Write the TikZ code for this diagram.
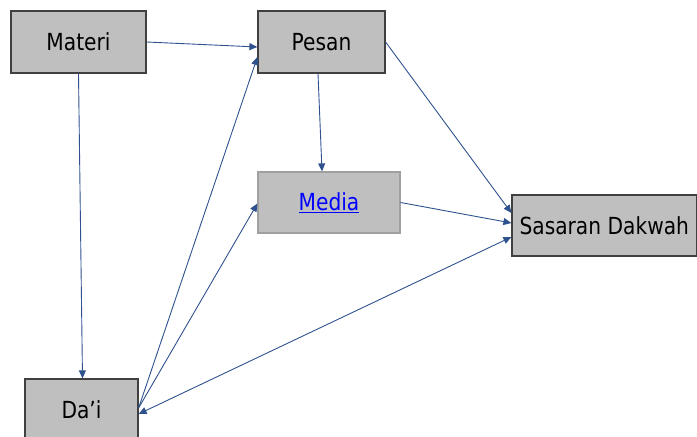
\documentclass[tikz,border=0pt]{standalone}
\usepackage{fontspec}
\setmainfont{DejaVu Sans}[FakeStretch=0.86]
\usetikzlibrary{arrows.meta}
\definecolor{boxfill}{RGB}{191,191,191}
\definecolor{boxline}{RGB}{64,64,64}
\definecolor{lightline}{RGB}{160,160,160}
\definecolor{arrowblue}{RGB}{47,82,143}
\begin{document}
\begin{tikzpicture}[x=1bp,y=-1bp,
  box/.style={draw=boxline,fill=boxfill,line width=1.2bp,inner sep=0pt,
    font=\fontsize{23.5bp}{27bp}\selectfont},
  conn/.style={draw=arrowblue,line width=0.9bp,-{Triangle[length=8bp,width=7bp]}},
  biconn/.style={draw=arrowblue,line width=0.9bp,{Triangle[length=8bp,width=7bp]}-{Triangle[length=8bp,width=7bp]}}]
\useasboundingbox (0,0) rectangle (697,437);
\node[box,minimum width=135bp,minimum height=62bp] (materi) at (78.5,42) {Materi};
\node[box,minimum width=127bp,minimum height=62bp] (pesan) at (321.5,42) {Pesan};
\node[box,draw=lightline,minimum width=142bp,minimum height=61bp] (media) at (329,202.5) {\textcolor{blue}{\underline{Media}}};
\node[box,minimum width=184.5bp,minimum height=61bp] (sasaran) at (604.25,225.5) {Sasaran Dakwah};
\node[box,minimum width=113bp,minimum height=62bp] (dai) at (81.5,410) {Da’i};
\draw[conn] (materi.east) -- ([yshift=-5bp]pesan.west);
\draw[conn] (materi.south) -- ([xshift=1bp]dai.north);
\draw[conn] ([xshift=-3.5bp]pesan.south) -- ([xshift=-7bp]media.north);
\draw[conn] (pesan.east) -- ([yshift=12.5bp]sasaran.west);
\draw[conn] (media.east) -- ([yshift=2.5bp]sasaran.west);
\draw[conn] ([yshift=2bp]dai.east) -- ([yshift=-15bp]pesan.west);
\draw[conn] ([yshift=2bp]dai.east) -- ([yshift=-1bp]media.west);
\draw[biconn] ([yshift=-11.5bp]sasaran.west) -- ([yshift=-4bp]dai.east);
\end{tikzpicture}
\end{document}
